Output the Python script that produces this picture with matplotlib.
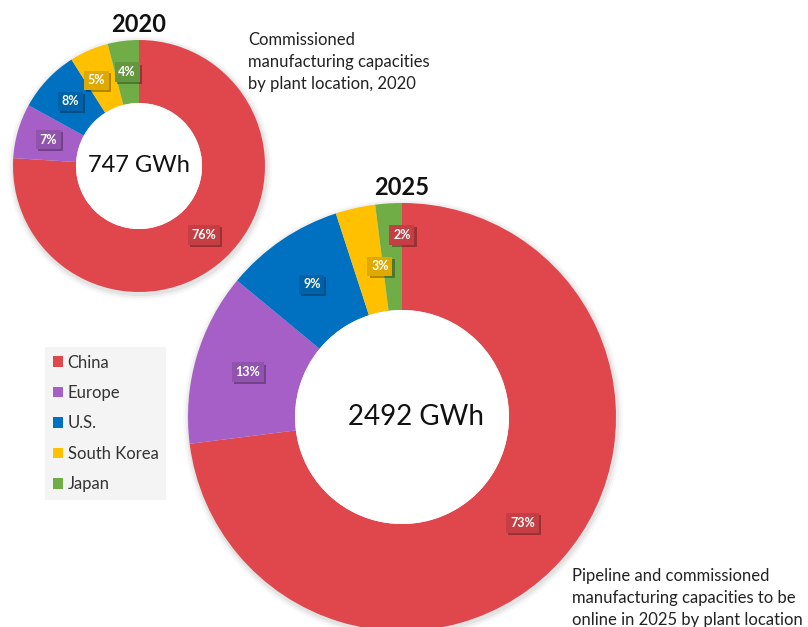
import numpy as np
import matplotlib
matplotlib.use("Agg")
import matplotlib.pyplot as plt
from matplotlib.patches import Patch, Circle, Wedge
import matplotlib.colors as mcolors
import matplotlib.patheffects as pe

plt.rcParams['font.family'] = ['Lato', 'DejaVu Sans']

# data
regions = ['China', 'Europe', 'U.S.', 'South Korea', 'Japan']
colors = ['#E0474C', '#A55FC6', '#0070C0', '#FFC000', '#70AD47']
share_2020 = [76, 7, 8, 5, 4]
share_2025 = [73, 13, 9, 3, 2]
total_2020 = 747
total_2025 = 2492

W, H = 808, 627
fig = plt.figure(figsize=(W / 100, H / 100), dpi=100)
ax = fig.add_axes([0, 0, 1, 1])


def darker(c, f=0.88):
    r, g, b = mcolors.to_rgb(c)
    return (r * f, g * f, b * f)


def donut(vals, cx, cy, r, year, total, tfs, lab_shift, box_col=None, tot_dx=0):
    box_col = box_col or {}
    cy = H - cy
    # soft shadow ring outside the donut
    for k, a in [(6, 0.025), (4, 0.035), (2, 0.05)]:
        ax.add_patch(Wedge((cx + 1, cy - 2), r + k, 0, 360, width=r / 2 + k,
                           color='#000000', alpha=a, lw=0, zorder=0))
    wedges, _ = ax.pie(vals, colors=colors, startangle=90, counterclock=False,
                       radius=r, center=(cx, cy),
                       wedgeprops=dict(width=r / 2, edgecolor='none'))
    ax.add_patch(Circle((cx, cy), r / 2, color='white', lw=0, zorder=2))
    # labels at ring middle
    start = 90
    for i, v in enumerate(vals):
        mid = np.deg2rad(start - v * 3.6 / 2)
        start -= v * 3.6
        rr = r * 0.75
        dx, dy = lab_shift.get(i, (0, 0))
        fc = darker(box_col.get(i, colors[i]))
        t = ax.text(cx + rr * np.cos(mid) + dx, cy + rr * np.sin(mid) - dy, f'{v}%',
                    ha='center', va='center', color='white', fontsize=9,
                    fontweight='bold', zorder=5,
                    bbox=dict(boxstyle='square,pad=0.3', fc=fc, ec='none'))
        t.get_bbox_patch().set_path_effects([
            pe.SimplePatchShadow(offset=(1.5, -1.5), shadow_rgbFace='#000000', alpha=0.3),
            pe.Normal()])
    ax.text(cx + tot_dx, cy, f'{total} GWh', ha='center', va='center', fontsize=tfs,
            color='#111111', zorder=6)
    ax.text(cx, cy + r + 4, str(year), ha='center', va='bottom', fontsize=17,
            fontweight='bold', color='#111111')


donut(share_2020, 139, 166, 126, 2020, total_2020, 17, {3: (-5, 1)})
donut(share_2025, 402, 417, 214, 2025, total_2025, 20, {3: (13, 6), 4: (10, -22)},
      box_col={4: colors[0]}, tot_dx=14)

ax.text(248, H - 32, 'Commissioned\nmanufacturing capacities\nby plant location, 2020',
        ha='left', va='top', fontsize=12, color='#222222', linespacing=1.45)
ax.text(572, H - 568, 'Pipeline and commissioned\nmanufacturing capacities to be\nonline in 2025 by plant location',
        ha='left', va='top', fontsize=12, color='#222222', linespacing=1.45)

handles = [Patch(facecolor=c, edgecolor='none', label=l) for c, l in zip(colors, regions)]
leg = fig.legend(handles=handles, loc='upper left', bbox_to_anchor=(45 / W, 1 - 347 / H),
                 frameon=True, facecolor='#F4F4F4', edgecolor='none', framealpha=1,
                 fontsize=12, handlelength=0.6, handleheight=0.6, handletextpad=0.3,
                 labelspacing=0.87, borderpad=0.45, borderaxespad=0, fancybox=False)
for txt in leg.get_texts():
    txt.set_color('#333333')

ax.set_xlim(0, W)
ax.set_ylim(0, H)
ax.set_aspect('equal')
ax.axis('off')

fig.savefig('out.png', dpi=100, facecolor='white')
